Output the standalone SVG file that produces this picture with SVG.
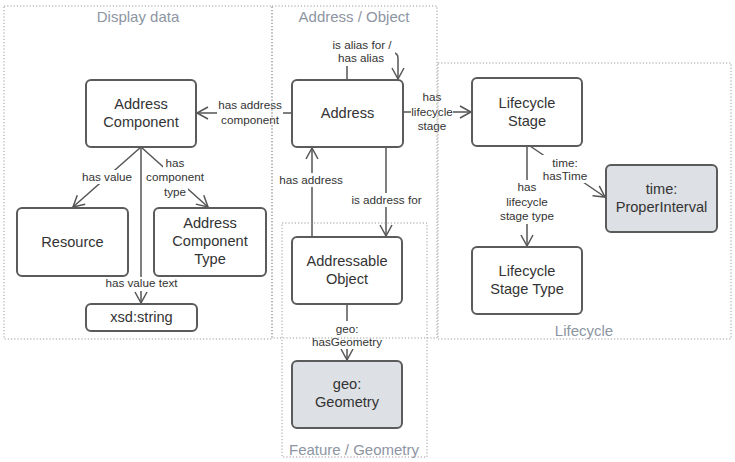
<svg xmlns="http://www.w3.org/2000/svg" width="735" height="462" viewBox="0 0 735 462">
<style>
.node rect{fill:#fff;stroke:#5b5b5b;stroke-width:2}
.node.grey rect{fill:#dde0e4}
.node text{font-family:"Liberation Sans",Arial,sans-serif;font-size:14.6px;fill:#333;text-anchor:middle}
.edge{fill:none;stroke:#555;stroke-width:1.5}
.lbg{fill:#fff}
.lbl{font-family:"Liberation Sans",Arial,sans-serif;font-size:11.7px;fill:#333;text-anchor:middle}
.cont{fill:none;stroke:#9a9a9a;stroke-width:1;stroke-dasharray:1.2 2}
.ctitle{font-family:"Liberation Sans",Arial,sans-serif;font-size:15px;fill:#8d95a2;text-anchor:middle}
</style>
<defs>
<marker id="arr" markerUnits="userSpaceOnUse" markerWidth="14" markerHeight="14" refX="12" refY="7" orient="auto">
<path d="M1,1 L12,7 L1,13" fill="none" stroke="#555" stroke-width="1.5"/>
</marker>
</defs>
<rect width="735" height="462" fill="#fff"/>
<g id="connectors">
<g id="e-has-address-component">
<path class="edge" d="M292,113 H197" marker-end="url(#arr)"/>
<rect class="lbg" x="217" y="97" width="66" height="30"/>
<text class="lbl" x="250" y="109">has address</text>
<text class="lbl" x="250" y="124">component</text>
</g>
<g id="e-alias">
<path class="edge" d="M347,80 V53 H393 Q398,53 398,58 V79" marker-end="url(#arr)"/>
<rect class="lbg" x="330" y="37" width="65" height="29"/>
<text class="lbl" x="362" y="49">is alias for /</text>
<text class="lbl" x="361" y="62">has alias</text>
</g>
<g id="e-has-lifecycle-stage">
<path class="edge" d="M403,112 H471" marker-end="url(#arr)"/>
<rect class="lbg" x="411" y="89" width="42" height="45"/>
<text class="lbl" x="432" y="101">has</text>
<text class="lbl" x="432" y="115.5">lifecycle</text>
<text class="lbl" x="432" y="130">stage</text>
</g>
<g id="e-has-lifecycle-stage-type">
<path class="edge" d="M527,146 V246" marker-end="url(#arr)"/>
<rect class="lbg" x="497" y="180" width="60" height="44"/>
<text class="lbl" x="527" y="191">has</text>
<text class="lbl" x="527" y="206">lifecycle</text>
<text class="lbl" x="527" y="220">stage type</text>
</g>
<g id="e-has-time">
<path class="edge" d="M530,146 L605,197" marker-end="url(#arr)"/>
<rect class="lbg" x="540" y="155" width="50" height="28"/>
<text class="lbl" x="565" y="167">time:</text>
<text class="lbl" x="565" y="180">hasTime</text>
</g>
<g id="e-is-address-for">
<path class="edge" d="M386,147 V236" marker-end="url(#arr)"/>
<rect class="lbg" x="349" y="193" width="75" height="14"/>
<text class="lbl" x="386.5" y="204">is address for</text>
</g>
<g id="e-has-address">
<path class="edge" d="M312,237 V148" marker-end="url(#arr)"/>
<rect class="lbg" x="278" y="173" width="66" height="14"/>
<text class="lbl" x="311" y="184">has address</text>
</g>
<g id="e-has-geometry">
<path class="edge" d="M347,304 V360" marker-end="url(#arr)"/>
<rect class="lbg" x="312" y="321" width="70" height="28"/>
<text class="lbl" x="347" y="333">geo:</text>
<text class="lbl" x="347" y="346">hasGeometry</text>
</g>
<g id="e-has-value">
<path class="edge" d="M141,147 L73,207" marker-end="url(#arr)"/>
<rect class="lbg" x="80" y="170" width="54" height="14"/>
<text class="lbl" x="107" y="181">has value</text>
</g>
<g id="e-has-component-type">
<path class="edge" d="M141,147 L208,207" marker-end="url(#arr)"/>
<rect class="lbg" x="163" y="155" width="24" height="14"/>
<rect class="lbg" x="144" y="169" width="62" height="15"/>
<rect class="lbg" x="162" y="184" width="26" height="15"/>
<text class="lbl" x="175" y="167">has</text>
<text class="lbl" x="175" y="181">component</text>
<text class="lbl" x="175" y="196">type</text>
</g>
<g id="e-has-value-text">
<path class="edge" d="M141,147 V303" marker-end="url(#arr)"/>
<rect class="lbg" x="104" y="277" width="75" height="14"/>
<text class="lbl" x="141.5" y="287">has value text</text>
</g>
</g>
<g id="containers">
<rect class="cont" x="4" y="6" width="268" height="333"/>
<rect class="cont" x="272" y="6" width="165" height="332"/>
<rect class="cont" x="282" y="223" width="145" height="234"/>
<rect class="cont" x="438" y="63" width="293" height="276"/>
<text class="ctitle" x="138" y="22">Display data</text>
<text class="ctitle" x="354" y="22">Address / Object</text>
<text class="ctitle" x="584" y="336">Lifecycle</text>
<text class="ctitle" x="354" y="455">Feature / Geometry</text>
</g>
<g id="address-component" class="node">
<rect x="86" y="80" width="110" height="67" rx="5"/>
<text x="141" y="109">Address</text>
<text x="141" y="127">Component</text>
</g>
<g id="address" class="node">
<rect x="292" y="80" width="111" height="67" rx="5"/>
<text x="347.5" y="118">Address</text>
</g>
<g id="lifecycle-stage" class="node">
<rect x="472" y="78" width="110" height="68" rx="5"/>
<text x="527" y="107.5">Lifecycle</text>
<text x="527" y="125.5">Stage</text>
</g>
<g id="proper-interval" class="node grey">
<rect x="606" y="165" width="111" height="67" rx="5"/>
<text x="661.5" y="193.5">time:</text>
<text x="661.5" y="211.5">ProperInterval</text>
</g>
<g id="lifecycle-stage-type" class="node">
<rect x="472" y="247" width="110" height="67" rx="5"/>
<text x="527" y="275.5">Lifecycle</text>
<text x="527" y="293.5">Stage Type</text>
</g>
<g id="resource" class="node">
<rect x="17" y="208" width="111" height="68" rx="5"/>
<text x="72.5" y="247">Resource</text>
</g>
<g id="address-component-type" class="node">
<rect x="154" y="208" width="112" height="68" rx="5"/>
<text x="210" y="228">Address</text>
<text x="210" y="246">Component</text>
<text x="210" y="264">Type</text>
</g>
<g id="xsd-string" class="node">
<rect x="86" y="304" width="111" height="27" rx="5"/>
<text x="141.5" y="322">xsd:string</text>
</g>
<g id="addressable-object" class="node">
<rect x="292" y="237" width="110" height="67" rx="5"/>
<text x="347" y="266">Addressable</text>
<text x="347" y="284">Object</text>
</g>
<g id="geometry" class="node grey">
<rect x="292" y="361" width="110" height="67" rx="5"/>
<text x="347" y="389">geo:</text>
<text x="347" y="407">Geometry</text>
</g>
</svg>
